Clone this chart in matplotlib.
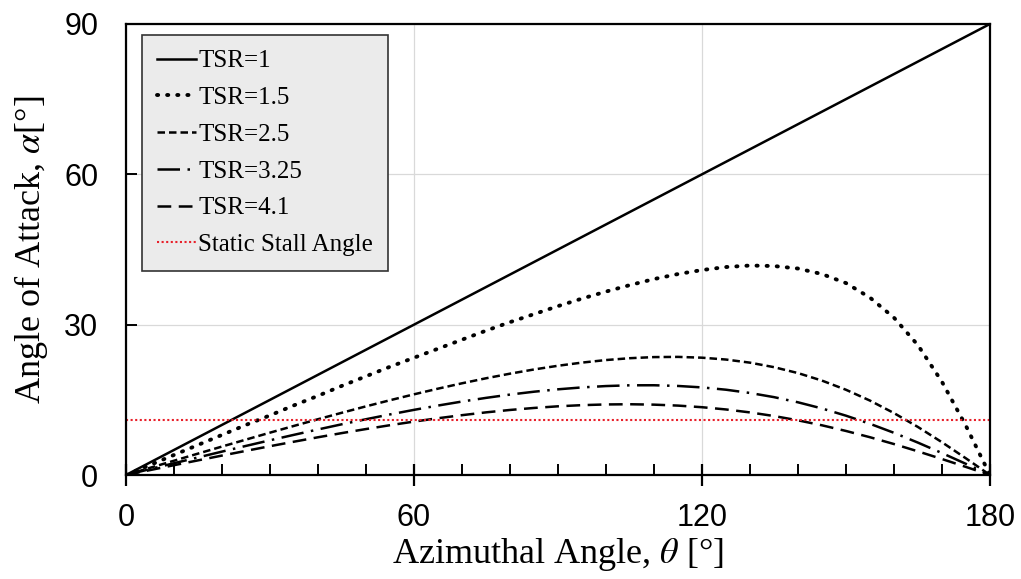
import numpy as np
import matplotlib.pyplot as plt
from matplotlib.ticker import MultipleLocator

# azimuth positions (deg) and angle of attack (deg) for each tip speed ratio
theta = [0, 5, 10, 15, 20, 25, 30, 35, 40, 45, 50, 55, 60, 65, 70, 75, 80, 85, 90,
         95, 100, 105, 110, 115, 120, 125, 130, 135, 140, 145, 150, 155, 160, 165,
         170, 175, 180]

theta_tsr1 = [0, 180]
alpha_tsr1 = [0, 90]

alpha_tsr15 = [0, 2.0, 4.0, 6.0, 8.0, 10.0, 11.9, 13.9, 15.8, 17.8, 19.7, 21.6, 23.4,
               25.2, 27.0, 28.8, 30.5, 32.1, 33.7, 35.2, 36.6, 37.9, 39.1, 40.1, 40.9,
               41.5, 41.8, 41.7, 41.2, 40.1, 38.3, 35.4, 31.4, 25.9, 18.6, 9.8, 0]

alpha_tsr25 = [0, 1.43, 2.85, 4.27, 5.68, 7.07, 8.45, 9.80, 11.13, 12.43, 13.70, 14.92,
               16.10, 17.23, 18.30, 19.30, 20.22, 21.06, 21.80, 22.43, 22.94, 23.31,
               23.53, 23.57, 23.41, 23.04, 22.42, 21.52, 20.34, 18.84, 17.01, 14.85,
               12.36, 9.58, 6.54, 3.32, 0]

alpha_tsr325 = [0, 1.18, 2.35, 3.51, 4.67, 5.81, 6.93, 8.02, 9.09, 10.13, 11.13, 12.09,
                13.00, 13.86, 14.66, 15.39, 16.05, 16.62, 17.10, 17.48, 17.75, 17.90,
                17.91, 17.77, 17.48, 17.02, 16.37, 15.54, 14.51, 13.28, 11.84, 10.22,
                8.42, 6.46, 4.38, 2.22, 0]

alpha_tsr41 = [0, 0.98, 1.96, 2.92, 3.88, 4.82, 5.75, 6.65, 7.53, 8.37, 9.17, 9.94,
               10.66, 11.33, 11.94, 12.50, 12.98, 13.38, 13.71, 13.94, 14.08, 14.12,
               14.04, 13.85, 13.53, 13.08, 12.49, 11.77, 10.91, 9.92, 8.79, 7.54,
               6.18, 4.72, 3.19, 1.61, 0]

stall_angle = 11

plt.rcParams['font.family'] = 'Liberation Serif'
plt.rcParams['mathtext.fontset'] = 'stix'

fig = plt.figure(figsize=(10.21, 5.79), dpi=100)
ax = fig.add_axes([0.1234, 0.1796, 0.8462, 0.779])

lw = 1.8
ax.plot(theta_tsr1, alpha_tsr1, color='black', lw=lw, ls='-', label='TSR=1')
ax.plot(theta, alpha_tsr15, color='black', lw=2.8, ls=(0, (0.3, 2.3)),
        dash_capstyle='round', label='TSR=1.5')
ax.plot(theta, alpha_tsr25, color='black', lw=lw, ls=(0, (3, 1.6)), label='TSR=2.5')
ax.plot(theta, alpha_tsr325, color='black', lw=lw, ls=(0, (9, 3, 1, 3)), label='TSR=3.25')
ax.plot(theta, alpha_tsr41, color='black', lw=lw, ls=(0, (5.5, 3)), label='TSR=4.1')
ax.plot([0, 180], [stall_angle, stall_angle], color='#e8202a', lw=1.5,
        ls=(0, (1, 1.2)), label='Static Stall Angle')

ax.set_xlim(0, 180)
ax.set_ylim(0, 90)
ax.xaxis.set_major_locator(MultipleLocator(60))
ax.xaxis.set_minor_locator(MultipleLocator(10))
ax.yaxis.set_major_locator(MultipleLocator(30))

ax.grid(True, which='major', color='#d9d9d9', lw=0.9)
ax.set_axisbelow(True)
for s in ax.spines.values():
    s.set_linewidth(1.6)

ax.tick_params(axis='x', which='major', direction='inout', length=16, width=1.6, pad=12)
ax.tick_params(axis='x', which='minor', direction='in', length=8, width=1.4)
ax.tick_params(axis='y', which='major', direction='in', length=8, width=1.4, pad=20)
ax.tick_params(axis='both', which='major', labelsize=22, labelfontfamily='Liberation Sans')

ax.set_xlabel(r'Azimuthal Angle, $\theta$ [°]', fontsize=26, labelpad=2)
ax.set_ylabel(r'Angle of Attack, $\alpha$[°]', fontsize=26, labelpad=10)

leg = ax.legend(loc='upper left', fontsize=18, frameon=True, fancybox=False,
                handlelength=1.55, handletextpad=0.1, labelspacing=0.57,
                borderpad=0.6, borderaxespad=0, bbox_to_anchor=(0.0185, 0.976))
leg.get_frame().set_facecolor('#ebebeb')
leg.get_frame().set_edgecolor('#333333')
leg.get_frame().set_linewidth(1.2)
leg.get_frame().set_alpha(1)

fig.savefig('out.png', dpi=100)
